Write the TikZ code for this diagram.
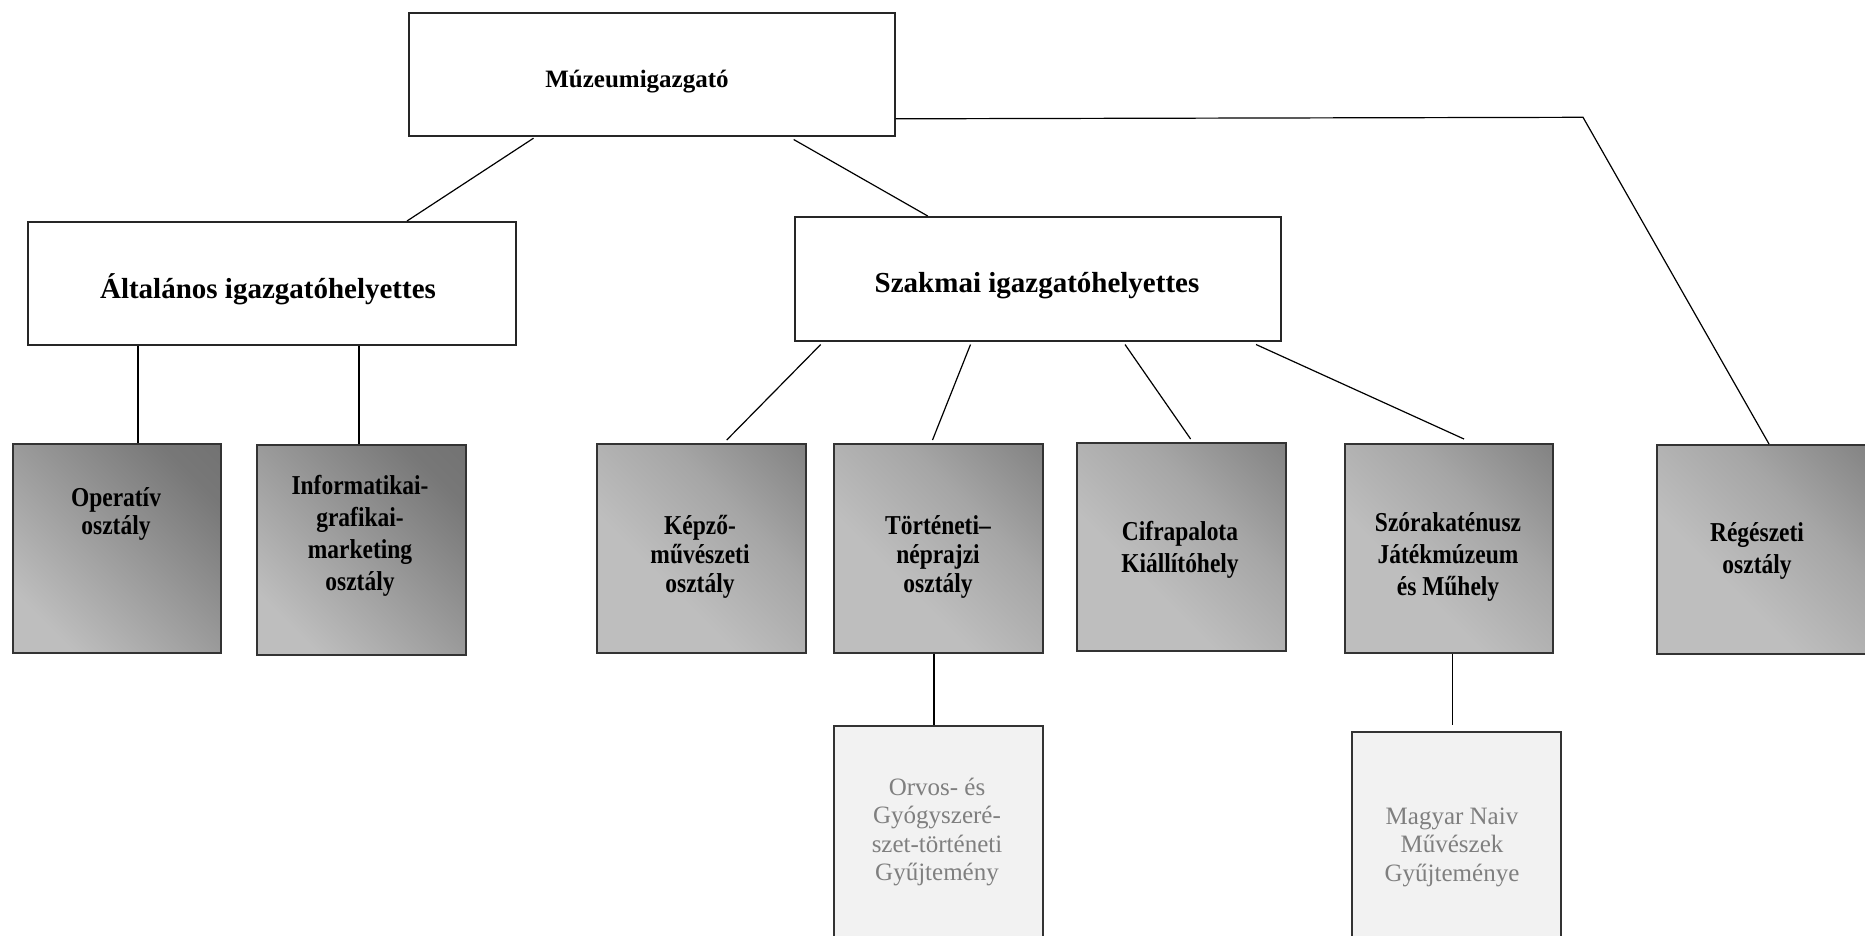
\documentclass[tikz,border=0pt]{standalone}
\usepackage{fontspec}
\setmainfont{Liberation Serif}
\newfontfamily\condserif{Liberation Serif}[FakeStretch=0.86]
\usetikzlibrary{calc}
\definecolor{liteg}{HTML}{BEBEBE}
\definecolor{midg}{HTML}{A6A6A6}
\definecolor{darkg}{HTML}{6C6C6C}
\definecolor{paleg}{HTML}{F2F2F2}
\definecolor{txtg}{HTML}{7F7F7F}
\pgfdeclareverticalshading{softshade}{100bp}{color(0bp)=(liteg); color(38bp)=(liteg); color(62bp)=(midg); color(100bp)=(darkg)}
\pgfdeclareverticalshading{hardshade}{100bp}{color(0bp)=(liteg); color(25bp)=(liteg); color(75bp)=(darkg!80!midg); color(100bp)=(darkg)}
\tikzset{
  whitebox/.style={draw=black!85, line width=1.5pt, fill=white, anchor=north west, inner sep=0pt},
  graybox/.style={draw=black!80, line width=1.5pt, anchor=north west, inner sep=0pt, shading=softshade, shading angle=-45},
  darkbox/.style={draw=black!80, line width=1.5pt, anchor=north west, inner sep=0pt, shading=hardshade, shading angle=-45},
  palebox/.style={draw=black!80, line width=1.5pt, fill=paleg, anchor=north west, inner sep=0pt},
  toplab/.style={font=\bfseries\fontsize{25}{30}\selectfont, align=center, inner sep=0pt},
  midlab/.style={font=\bfseries\fontsize{29}{34}\selectfont, align=center, inner sep=0pt},
  sublab/.style={font=\condserif\bfseries\fontsize{27.3}{32}\selectfont, align=center, inner sep=0pt},
  medlab/.style={font=\condserif\bfseries\fontsize{27.3}{29}\selectfont, align=center, inner sep=0pt},
  tightlab/.style={font=\condserif\bfseries\fontsize{27.3}{28}\selectfont, align=center, inner sep=0pt},
  palelab/.style={font=\fontsize{25}{28.5}\selectfont, text=txtg, align=center, inner sep=0pt},
  conn/.style={draw=black, line width=1.2pt}
}
\begin{document}
\begin{tikzpicture}[x=1pt,y=-1pt]
\useasboundingbox (0,0) rectangle (1865,935);
\clip (0,0) rectangle (1865,935);
% boxes
\node[whitebox, minimum width=486pt, minimum height=123pt] (top) at (408,12) {};
\node[whitebox, minimum width=488pt, minimum height=123pt] (alt) at (27,221) {};
\node[whitebox, minimum width=486pt, minimum height=124pt] (szak) at (794,216) {};
\node[darkbox, minimum width=208pt, minimum height=209pt] (op) at (12,443) {};
\node[darkbox, minimum width=209pt, minimum height=210pt] (inf) at (256,444) {};
\node[graybox, minimum width=209pt, minimum height=209pt] (kep) at (596,443) {};
\node[graybox, minimum width=209pt, minimum height=209pt] (tor) at (833,443) {};
\node[graybox, minimum width=209pt, minimum height=208pt] (cif) at (1076,442) {};
\node[graybox, minimum width=208pt, minimum height=209pt] (szo) at (1344,443) {};
\node[graybox, minimum width=215pt, minimum height=209pt] (reg) at (1656,444) {};
\node[palebox, minimum width=209pt, minimum height=220pt] (orv) at (833,725) {};
\node[palebox, minimum width=209pt, minimum height=215pt] (mag) at (1351,731) {};
% labels
\node[toplab] (topT) at (637,81.5) {Múzeumigazgató};
\node[midlab] (altT) at (268,289) {Általános igazgatóhelyettes};
\node[midlab] (szakT) at (1037,285.5) {Szakmai igazgatóhelyettes};
\node[tightlab] (opT) at (116,514) {Operatív\\osztály};
\node[sublab] (infT) at (360,536) {Informatikai-\\grafikai-\\marketing\\osztály};
\node[medlab] (kepT) at (700,557) {Képző-\\művészeti\\osztály};
\node[medlab] (torT) at (938,557) {Történeti–\\néprajzi\\osztály};
\node[sublab] (cifT) at (1180,550) {Cifrapalota\\Kiállítóhely};
\node[sublab] (szoT) at (1448,557) {Szórakaténusz\\Játékmúzeum\\és Műhely};
\node[sublab] (regT) at (1757,551) {Régészeti\\osztály};
\node[palelab] (orvT) at (937,832) {Orvos- és\\Gyógyszeré-\\szet-történeti\\Gyűjtemény};
\node[palelab] (magT) at (1452,847) {Magyar Naiv\\Művészek\\Gyűjteménye};
% connectors
\coordinate (bend) at (1583,117.3);
\draw[conn] ([xshift=125.5pt,yshift=-1.7pt]top.south west) -- ([xshift=380pt]alt.north west);
\draw[conn] ([xshift=385.7pt,yshift=-3pt]top.south west) -- ([xshift=133.7pt]szak.north west);
\draw[conn] ([yshift=17.7pt]top.south east) -- (bend) -- ([xshift=113pt]reg.north west);
\draw[conn] ([xshift=111pt]alt.south west) -- ([xshift=126pt]op.north west);
\draw[conn] ([xshift=332pt]alt.south west) -- ([xshift=103pt]inf.north west);
\draw[conn] ([xshift=26.7pt,yshift=-3pt]szak.south west) -- ([xshift=130.7pt,yshift=3pt]kep.north west);
\draw[conn] ([xshift=176.5pt,yshift=-3pt]szak.south west) -- ([xshift=99.5pt,yshift=3pt]tor.north west);
\draw[conn] ([xshift=331pt,yshift=-3pt]szak.south west) -- ([xshift=114.6pt,yshift=3pt]cif.north west);
\draw[conn] ([xshift=462pt,yshift=-3pt]szak.south west) -- ([xshift=120pt,yshift=4pt]szo.north west);
\draw[conn] ([xshift=101pt]tor.south west) -- ([xshift=101pt]orv.north west);
\draw[conn] ([xshift=108.7pt]szo.south west) -- ([xshift=101.7pt,yshift=6pt]mag.north west);
\end{tikzpicture}
\end{document}
